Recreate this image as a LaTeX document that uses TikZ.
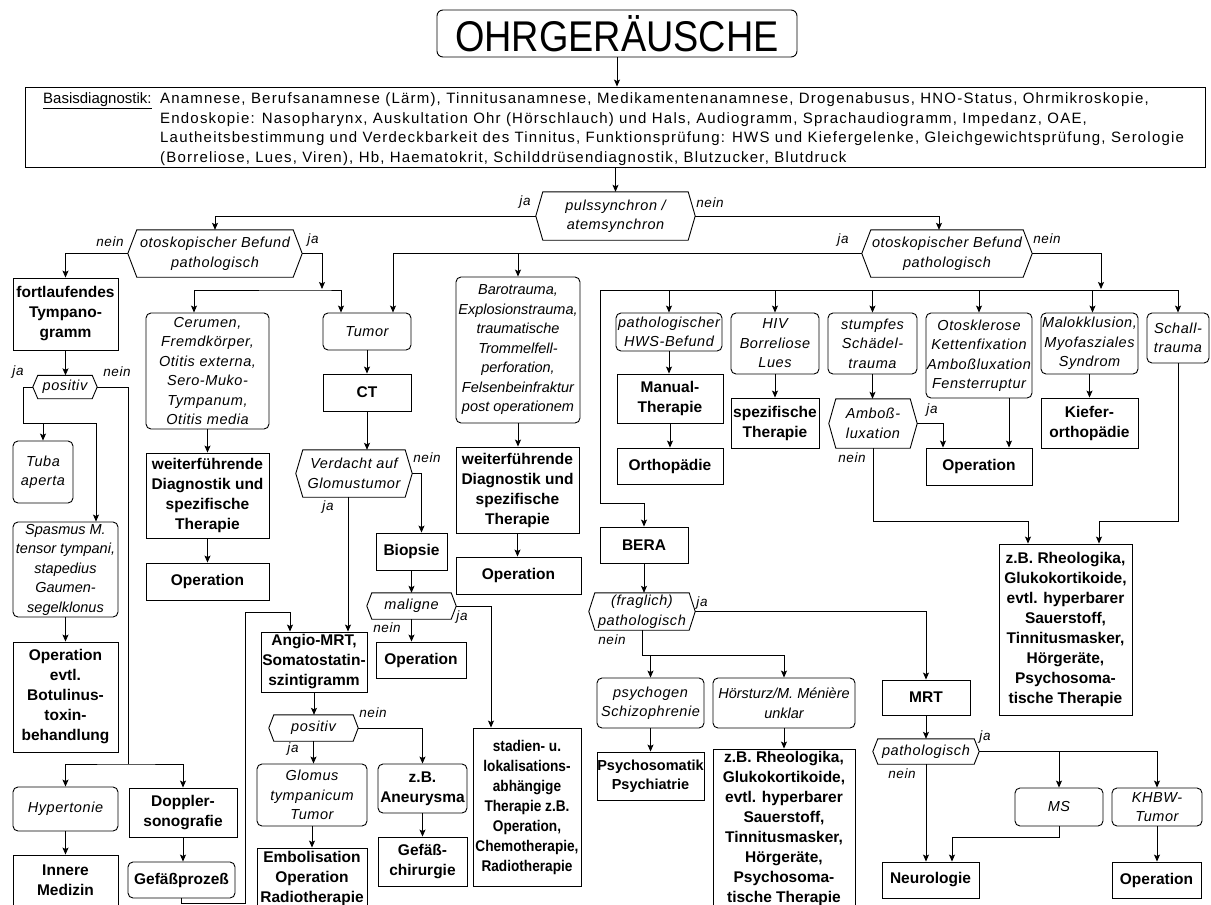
\documentclass[tikz,border=0pt]{standalone}
\usepackage{fontspec}
\setmainfont{Liberation Sans}
\newfontfamily\basisfont{Liberation Sans}[LetterSpace=8]
\newfontfamily\itfam{Liberation Sans}[LetterSpace=4]
\newfontfamily\titlefont{Liberation Sans}[FakeStretch=0.88]
\newfontfamily\condbold{Liberation Sans}[FakeStretch=0.88]
\usetikzlibrary{arrows.meta}
\newcommand{\hexa}[2][7]{\draw[line width=0.9pt] (#2.west) -- ([xshift=#1pt]#2.north west) -- ([xshift=-#1pt]#2.north east) -- (#2.east) -- ([xshift=-#1pt]#2.south east) -- ([xshift=#1pt]#2.south west) -- cycle;}
\tikzset{
 cond/.style={draw, rounded corners=5pt, align=center, inner sep=0pt, line width=0.9pt, font=\itfam\fontsize{14.5}{19.5}\selectfont\itshape},
 act/.style={draw, align=center, inner sep=0pt, line width=0.9pt, font=\fontsize{15.5}{20}\selectfont\bfseries},
 actr/.style={act, rounded corners=5pt},
 dec/.style={align=center, inner sep=0pt, font=\itfam\fontsize{14.5}{19.5}\selectfont\itshape},
 lab/.style={inner sep=0pt, font=\itfam\fontsize{13.5}{14}\selectfont\itshape},
 bas/.style={inner sep=0pt, anchor=base west, font=\basisfont\fontsize{15}{19.5}\selectfont},
 arr/.style={line width=0.8pt, -{Stealth[length=7pt,width=6pt,inset=1.5pt]}},
 darr/.style={line width=0.8pt, {Stealth[length=7pt,width=6pt,inset=1.5pt]}-{Stealth[length=7pt,width=6pt,inset=1.5pt]}},
 ln/.style={line width=0.8pt},
}
\begin{document}
\begin{tikzpicture}[x=1pt,y=-1pt]
\useasboundingbox (0,0) rectangle (1211,905);
\fill[white] (0,0) rectangle (1211,905);
\clip (0,0) rectangle (1211,905);

% title and basis
\node[draw, rounded corners=6pt, line width=0.9pt, minimum width=360, minimum height=47, inner sep=0pt, font=\titlefont\fontsize{43}{43}\selectfont] (title) at (617,33.5) {OHRGERÄUSCHE};
\node[draw, line width=0.9pt, minimum width=1180, minimum height=80, inner sep=0pt] (basis) at (615,127) {};
\node[inner sep=0pt, anchor=base west, font=\fontsize{15}{19.5}\selectfont] (blab) at (43,103.5) {\underline{Basisdiagnostik:}};
\node[bas] (b1) at (160,103.5) {Anamnese, Berufsanamnese (Lärm), Tinnitusanamnese, Medikamentenanamnese, Drogenabusus, HNO-Status, Ohrmikroskopie,};
\node[bas] (b2) at (160,123) {Endoskopie: Nasopharynx, Auskultation Ohr (Hörschlauch) und Hals, Audiogramm, Sprachaudiogramm, Impedanz, OAE,};
\node[bas] (b3) at (160,142.5) {Lautheitsbestimmung und Verdeckbarkeit des Tinnitus, Funktionsprüfung: HWS und Kiefergelenke, Gleichgewichtsprüfung, Serologie};
\node[bas] (b4) at (160,162) {(Borreliose, Lues, Viren), Hb, Haematokrit, Schilddrüsendiagnostik, Blutzucker, Blutdruck};

% decisions top
\node[dec, minimum width=159, minimum height=48] (pulss) at (615.5,216) {pulssynchron /\\atemsynchron};
\node[dec, minimum width=174, minimum height=47] (otoL) at (215,253.5) {otoskopischer Befund\\pathologisch};
\node[dec, minimum width=170, minimum height=47] (otoR) at (947,253.5) {otoskopischer Befund\\pathologisch};

% left column
\node[act, minimum width=105, minimum height=72] (fort) at (65.5,314) {fortlaufendes\\Tympano-\\gramm};
\node[dec, minimum width=64, minimum height=23] (posL) at (65,387) {positiv};
\node[cond, minimum width=60, minimum height=62] (tuba) at (43,472) {Tuba\\aperta};
\node[cond, font=\fontsize{14.5}{19.5}\selectfont\itshape, minimum width=105, minimum height=95] (spasm) at (65.5,569.5) {Spasmus M.\\tensor tympani,\\stapedius\\Gaumen-\\segelklonus};
\node[act, minimum width=105, minimum height=110] (opevtl) at (65.5,697) {Operation\\evtl.\\Botulinus-\\toxin-\\behandlung};
\node[cond, minimum width=105, minimum height=44] (hyper) at (65.5,809) {Hypertonie};
\node[act, minimum width=105, minimum height=50] (innere) at (65.5,880) {Innere\\Medizin};
\node[act, minimum width=108, minimum height=49] (doppler) at (183,812.5) {Doppler-\\sonografie};
\node[actr, minimum width=107, minimum height=36] (gefproz) at (181.5,880) {Gefäßprozeß};

% second column
\node[cond, minimum width=123, minimum height=116] (cerumen) at (207.5,371) {Cerumen,\\Fremdkörper,\\Otitis externa,\\Sero-Muko-\\Tympanum,\\Otitis media};
\node[act, minimum width=123, minimum height=85] (weitL) at (207.5,495.5) {weiterführende\\Diagnostik und\\spezifische\\Therapie};
\node[act, minimum width=123, minimum height=37] (opL) at (207.5,581.5) {Operation};

% tumor column
\node[cond, minimum width=88, minimum height=37] (tumor) at (367,331.5) {Tumor};
\node[act, minimum width=88, minimum height=37] (ct) at (367,392.5) {CT};
\node[dec, minimum width=116, minimum height=47] (verd) at (354,473.5) {Verdacht auf\\Glomustumor};
\node[act, minimum width=71, minimum height=37] (biop) at (411.5,551.5) {Biopsie};
\node[dec, minimum width=89, minimum height=26] (malig) at (411.5,606) {maligne};
\node[act, minimum width=90, minimum height=36] (opMid) at (421,660) {Operation};
\node[act, minimum width=106, minimum height=60] (angio) at (314,662) {Angio-MRT,\\Somatostatin-\\szintigramm};
\node[dec, minimum width=89, minimum height=26] (posM) at (313.5,728) {positiv};
\node[cond, minimum width=110, minimum height=62] (glomus) at (312,795) {Glomus\\tympanicum\\Tumor};
\node[act, minimum width=110, minimum height=60] (embol) at (312,878) {Embolisation\\Operation\\Radiotherapie};
\node[actr, minimum width=89, minimum height=49] (aneur) at (422.5,788.5) {z.B.\\Aneurysma};
\node[act, minimum width=89, minimum height=49] (gefchir) at (422.5,861.5) {Gefäß-\\chirurgie};
\node[act, font=\condbold\fontsize{15.5}{20}\selectfont\bfseries, minimum width=108, minimum height=158] (stad) at (527,807) {stadien- u.\\lokalisations-\\abhängige\\Therapie z.B.\\Operation,\\Chemotherapie,\\Radiotherapie};

% middle column
\node[cond, font=\fontsize{14.5}{19.5}\selectfont\itshape, minimum width=124, minimum height=146] (baro) at (518,350) {Barotrauma,\\Explosionstrauma,\\traumatische\\Trommelfell-\\perforation,\\Felsenbeinfraktur\\post operationem};
\node[act, minimum width=123, minimum height=86] (weitM) at (517.5,490) {weiterführende\\Diagnostik und\\spezifische\\Therapie};
\node[act, minimum width=125, minimum height=37] (opM2) at (518.5,575.5) {Operation};

% right part
\node[cond, minimum width=106, minimum height=38] (hws) at (669,332) {pathologischer\\HWS-Befund};
\node[act, minimum width=106, minimum height=49] (manual) at (670,398.5) {Manual-\\Therapie};
\node[act, minimum width=106, minimum height=36] (ortho) at (670,466) {Orthopädie};
\node[cond, minimum width=88, minimum height=61] (hiv) at (775,343.5) {HIV\\Borreliose\\Lues};
\node[act, minimum width=88, minimum height=50] (spez) at (775,423) {spezifische\\Therapie};
\node[act, minimum width=88, minimum height=36] (bera) at (644,545) {BERA};
\node[dec, minimum width=106, minimum height=37] (fragl) at (642,611.5) {(fraglich)\\pathologisch};
\node[cond, minimum width=107, minimum height=50] (psychog) at (650.5,703) {psychogen\\Schizophrenie};
\node[act, font=\fontsize{14.5}{19}\selectfont\bfseries, minimum width=107, minimum height=48] (psysom) at (650.5,776) {Psychosomatik\\Psychiatrie};
\node[cond, font=\fontsize{14.5}{19.5}\selectfont\itshape, minimum width=142, minimum height=50] (hoer) at (784,703) {Hörsturz/M. Ménière\\unklar};
\node[act, minimum width=142, minimum height=158] (rheo2) at (784,828) {z.B. Rheologika,\\Glukokortikoide,\\evtl. hyperbarer\\Sauerstoff,\\Tinnitusmasker,\\Hörgeräte,\\Psychosoma-\\tische Therapie};

\node[cond, minimum width=89, minimum height=61] (stumpf) at (872.5,343.5) {stumpfes\\Schädel-\\trauma};
\node[dec, minimum width=88, minimum height=49] (amboss) at (873,423.5) {Amboß-\\luxation};
\node[cond, minimum width=106, minimum height=85] (otoskl) at (979,355.5) {Otosklerose\\Kettenfixation\\Amboßluxation\\Fensterruptur};
\node[act, minimum width=106, minimum height=37] (op3) at (979,466.5) {Operation};
\node[cond, minimum width=97, minimum height=61] (malo) at (1089.5,343.5) {Malokklusion,\\Myofasziales\\Syndrom};
\node[act, minimum width=97, minimum height=50] (kiefer) at (1089.5,423) {Kiefer-\\orthopädie};
\node[cond, minimum width=62, minimum height=50] (schall) at (1178,338) {Schall-\\trauma};
\node[act, minimum width=133, minimum height=171] (rheo1) at (1065.5,629.5) {z.B. Rheologika,\\Glukokortikoide,\\evtl. hyperbarer\\Sauerstoff,\\Tinnitusmasker,\\Hörgeräte,\\Psychosoma-\\tische Therapie};
\node[act, minimum width=88, minimum height=35] (mrt) at (926,697.5) {MRT};
\node[dec, minimum width=106, minimum height=25] (patho) at (926,751.5) {pathologisch};
\node[act, minimum width=97, minimum height=36] (neuro) at (930.5,880) {Neurologie};
\node[cond, minimum width=88, minimum height=38] (ms) at (1059,807) {MS};
\node[cond, minimum width=90, minimum height=38] (khbw) at (1157,807) {KHBW-\\Tumor};
\node[act, minimum width=89, minimum height=36] (op4) at (1156.5,880) {Operation};

% hexagon outlines
\hexa[7]{pulss}
\hexa[9]{otoL}
\hexa[9]{otoR}
\hexa[5]{posL}
\hexa[7]{verd}
\hexa[5]{malig}
\hexa[5]{posM}
\hexa[7]{amboss}
\hexa[6]{fragl}
\hexa[5]{patho}

% coordinates for bends
\coordinate (jL) at (322,289);
\coordinate (busL) at (322,290);
\coordinate (bus0) at (600,290);
\coordinate (bus1) at (1178,290);
\coordinate (jR) at (1101,289);
\coordinate (bera1) at (600,503);
\coordinate (p1) at (23,423);
\coordinate (p2) at (96,423);
\coordinate (p3) at (128,764);
\coordinate (g1) at (245,903);
\coordinate (g2) at (245,612);
\coordinate (r1) at (1028,521);
\coordinate (r2) at (1099,521);
\coordinate (f1) at (642,655);
\coordinate (m1) at (952,837);

% connectors
\draw[arr] (title.south) -- (title.south |- basis.north);
\draw[arr] (pulss.north |- basis.south) -- (pulss.north);
\draw[arr] (pulss.west) -| (otoL.north);
\draw[arr] (pulss.east) -| ([xshift=-8]otoR.north);
\draw[arr] (otoL.west) -| (fort.north);
\draw[arr] (otoL.east) -| (jL);
\draw[darr] ([xshift=-13.5]cerumen.north) |- (busL) -| ([xshift=-26]tumor.north);
\draw[arr] (otoR.west) -| ([xshift=26]tumor.north);
\draw[arr] (baro.north |- otoR.west) -- (baro.north);
\draw[arr] (otoR.east) -| (jR);
\draw[ln] (bus0) -- (bus1);
\draw[arr] (hws.north |- bus0) -- (hws.north);
\draw[arr] (hiv.north |- bus0) -- (hiv.north);
\draw[arr] (stumpf.north |- bus0) -- (stumpf.north);
\draw[arr] (otoskl.north |- bus0) -- (otoskl.north);
\draw[arr] ([xshift=3]malo.north |- bus0) -- ([xshift=3]malo.north);
\draw[arr] (schall.north |- bus1) -- (schall.north);
\draw[arr] (bus0) -- (bera1) -| (bera.north);

% left column connectors
\draw[arr] (fort.south) -- (fort.south |- posL.north);
\draw[arr] (posL.west) -| (p1) -- (p2) -- (p2 |- spasm.north);
\draw[arr] (tuba.north |- p1) -- (tuba.north);
\draw[ln] (posL.east) -| (p3);
\draw[darr] (hyper.north) |- (p3) -| (doppler.north);
\draw[arr] (spasm.south) -- (opevtl.north);
\draw[arr] (hyper.south) -- (innere.north);
\draw[arr] (doppler.south) -- (doppler.south |- gefproz.north);
\draw[arr] (gefproz.south) |- (g1) -- (g2) -| ([xshift=-24]angio.north);

\draw[arr] (cerumen.south) -- (weitL.north);
\draw[arr] (weitL.south) -- (opL.north);

\draw[arr] (tumor.south) -- (ct.north);
\draw[arr] (ct.south) -- (ct.south |- verd.north);
\draw[arr] (verd.east) -| ([xshift=10]biop.north);
\draw[arr] ([xshift=-6]verd.south) -- ([xshift=-6]verd.south |- angio.north);
\draw[arr] (biop.south) -- (malig.north);
\draw[arr] (malig.south) -- (malig.south |- opMid.north);
\draw[arr] (malig.east) -| ([xshift=-36]stad.north);
\draw[arr] (angio.south) -- (angio.south |- posM.north);
\draw[arr] (posM.south) -- (posM.south |- glomus.north);
\draw[arr] (glomus.south) -- (embol.north);
\draw[arr] (posM.east) -| (aneur.north);
\draw[arr] (aneur.south) -- (gefchir.north);

\draw[arr] (baro.south) -- (baro.south |- weitM.north);
\draw[arr] (weitM.south) -- (weitM.south |- opM2.north);

\draw[arr] (hws.south) -- (hws.south |- manual.north);
\draw[arr] (manual.south) -- (ortho.north);
\draw[arr] (hiv.south) -- (spez.north);
\draw[arr] (malo.south) -- (kiefer.north);
\draw[arr] (stumpf.south) -- (stumpf.south |- amboss.north);
\draw[arr] (amboss.east) -| ([xshift=-36]op3.north);
\draw[arr] ([xshift=30]otoskl.south) -- ([xshift=30]op3.north);
\draw[arr] (amboss.south) |- (r1) -- (r1 |- rheo1.north);
\draw[arr] (schall.south) |- (r2) -- (r2 |- rheo1.north);

\draw[arr] (bera.south) -- (bera.south |- fragl.north);
\draw[arr] (fragl.east) -| (mrt.north);
\draw[ln] (fragl.south) -- (f1);
\draw[arr] (f1) -| (hoer.north);
\draw[arr] (psychog.north |- f1) -- (psychog.north);
\draw[arr] (psychog.south) -- (psysom.north);
\draw[arr] (hoer.south) -- (rheo2.north);
\draw[arr] (mrt.south) -- (patho.north);
\draw[arr] (patho.south) -- (patho.south |- neuro.north);
\draw[arr] (patho.east) -| (khbw.north);
\draw[arr] (ms.north |- patho.east) -- (ms.north);
\draw[arr] (ms.south) |- (m1) -- (m1 |- neuro.north);
\draw[arr] (khbw.south) -- (khbw.south |- op4.north);

% labels
\node[lab] (l1) at (525,202) {ja};
\node[lab] (l2) at (710,203) {nein};
\node[lab] (l3) at (110,242) {nein};
\node[lab] (l4) at (313,240) {ja};
\node[lab] (l5) at (843,240) {ja};
\node[lab] (l6) at (1047,239) {nein};
\node[lab] (l7) at (18,372) {ja};
\node[lab] (l8) at (117,372) {nein};
\node[lab] (l9) at (427,458) {nein};
\node[lab] (l10) at (328,507) {ja};
\node[lab] (l11) at (387,628) {nein};
\node[lab] (l12) at (462,617) {ja};
\node[lab] (l13) at (293,749) {ja};
\node[lab] (l14) at (373,713) {nein};
\node[lab] (l15) at (932,410) {ja};
\node[lab] (l16) at (852,458) {nein};
\node[lab] (l17) at (702,603) {ja};
\node[lab] (l18) at (612,640) {nein};
\node[lab] (l19) at (985,737) {ja};
\node[lab] (l20) at (902,774) {nein};
\end{tikzpicture}
\end{document}
